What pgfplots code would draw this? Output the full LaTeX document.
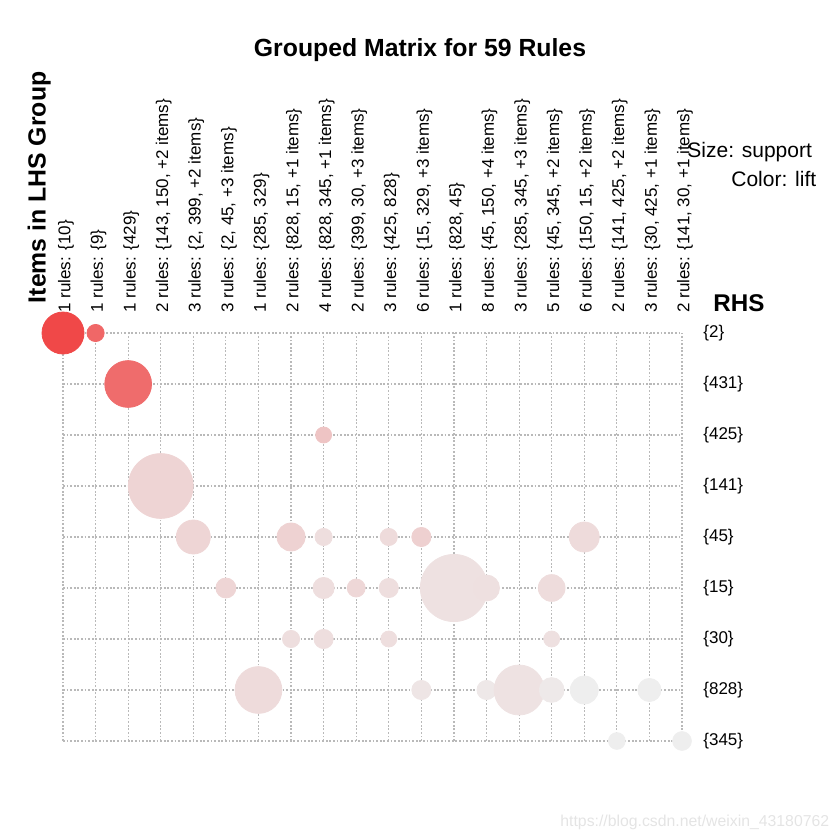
\documentclass[border=0pt]{standalone}
\usepackage{pgfplots}
\pgfplotsset{compat=1.18}
\usepackage{pgfplotstable}
\usepackage{fontspec}
\setmainfont{Liberation Sans}
\definecolor{gridgray}{RGB}{185,185,185}
\definecolor{wmark}{RGB}{228,228,228}

% x = LHS group (1..20), y = RHS row (9 = {2} ... 1 = {345}), r = radius (pt), m = lift shade (0 grey .. 1 red)
\pgfplotstableread{
x  y  r     m
1  9  10.5  0.95
2  9  4.3   0.77
3  8  11.7  0.74
9  7  4.0   0.24
4  6  16.2  0.15
5  5  8.5   0.14
8  5  7.0   0.16
9  5  4.3   0.09
11 5  4.3   0.11
12 5  4.8   0.17
17 5  7.5   0.11
6  4  5.0   0.14
9  4  5.3   0.09
10 4  4.5   0.13
11 4  4.8   0.09
13 4  16.8  0.075
14 4  6.5   0.08
16 4  6.7   0.10
8  3  4.3   0.09
9  3  4.8   0.09
11 3  4.0   0.09
16 3  4.0   0.08
7  2  11.7  0.11
12 2  4.8   0.05
14 2  4.8   0.035
15 2  12.5  0.07
16 2  6.2   0.03
17 2  7.0   0.0
19 2  5.8   0.0
18 1  4.2   0.0
20 1  4.7   0.0
}\bubbles

\begin{document}
\begin{tikzpicture}
\path[use as bounding box] (0pt,0pt) rectangle (420pt,420pt);
\begin{axis}[
  at={(31.5pt,49.5pt)}, anchor=south west,
  scale only axis, width=309.5pt, height=204pt,
  xmin=1, xmax=20, ymin=1, ymax=9, enlargelimits=false,
  clip=false,
  axis line style={draw=none},
  major tick length=0pt,
  xtick={1,...,20}, ytick={1,...,9},
  grid=major,
  major grid style={gridgray, line width=0.6pt, dash pattern=on 0.9pt off 0.9pt},
  xticklabel pos=upper,
  xticklabels={
    {1 rules: \{10\}},
    {1 rules: \{9\}},
    {1 rules: \{429\}},
    {2 rules: \{143, 150, +2 items\}},
    {3 rules: \{2, 399, +2 items\}},
    {3 rules: \{2, 45, +3 items\}},
    {1 rules: \{285, 329\}},
    {2 rules: \{828, 15, +1 items\}},
    {4 rules: \{828, 345, +1 items\}},
    {2 rules: \{399, 30, +3 items\}},
    {3 rules: \{425, 828\}},
    {6 rules: \{15, 329, +3 items\}},
    {1 rules: \{828, 45\}},
    {8 rules: \{45, 150, +4 items\}},
    {3 rules: \{285, 345, +3 items\}},
    {5 rules: \{45, 345, +2 items\}},
    {6 rules: \{150, 15, +2 items\}},
    {2 rules: \{141, 425, +2 items\}},
    {3 rules: \{30, 425, +1 items\}},
    {2 rules: \{141, 30, +1 items\}}
  },
  xticklabel style={xshift=1.5pt, rotate=90, anchor=west, inner sep=0pt, font=\fontsize{8.5pt}{10pt}\selectfont},
  xticklabel shift=10pt,
  yticklabel pos=right,
  yticklabels={\{345\},\{828\},\{30\},\{15\},\{45\},\{141\},\{425\},\{431\},\{2\}},
  yticklabel style={anchor=west, inner sep=0pt, font=\fontsize{8.5pt}{10pt}\selectfont},
  yticklabel shift=10.5pt,
  colormap={lift}{rgb255(0)=(238,238,238) rgb255(1)=(240,64,64)},
  point meta min=0, point meta max=1,
]
\addplot[scatter, only marks, mark=*,
  point meta=\thisrow{m},
  scatter/use mapped color={draw=mapped color, fill=mapped color},
  visualization depends on={\thisrow{r} \as \rad},
  scatter/@pre marker code/.append style={/tikz/mark size=\rad pt},
] table[x=x, y=y] {\bubbles};
\end{axis}
\node[anchor=base, font=\bfseries\fontsize{12.4pt}{14pt}\selectfont] at (210pt,391.5pt) {Grouped Matrix for 59 Rules};
\node[anchor=base, rotate=90, inner sep=0pt, font=\bfseries\fontsize{12.4pt}{14pt}\selectfont] at (22.8pt,326.3pt) {Items in LHS Group};
\node[anchor=base west, inner sep=0pt, font=\bfseries\fontsize{12.1pt}{14pt}\selectfont] at (356.5pt,264pt) {RHS};
\node[anchor=base west, inner sep=0pt, font=\fontsize{10.5pt}{12pt}\selectfont] at (343.5pt,341pt) {Size: support};
\node[anchor=base west, inner sep=0pt, font=\fontsize{10.5pt}{12pt}\selectfont] at (365.5pt,326.5pt) {Color: lift};
\node[anchor=base west, inner sep=0pt, text=wmark, font=\fontsize{7.9pt}{9pt}\selectfont] at (280pt,6.5pt) {https://blog.csdn.net/weixin\_43180762};
\end{tikzpicture}
\end{document}
